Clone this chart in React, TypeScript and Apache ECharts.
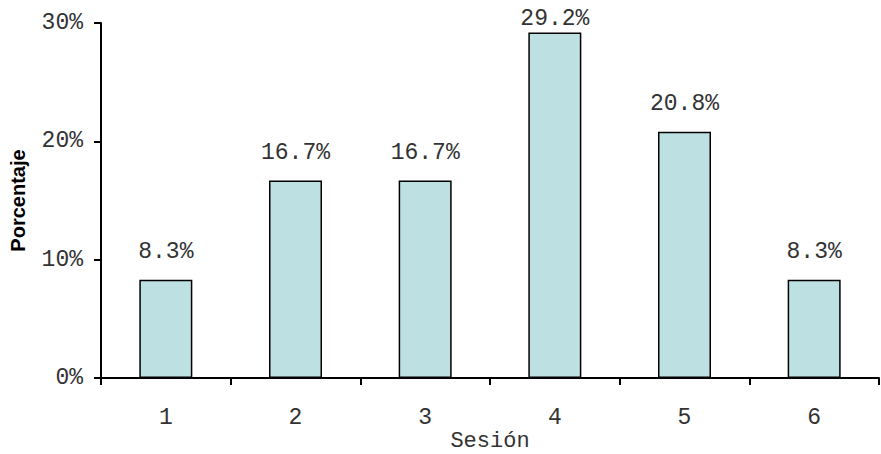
import React, { useEffect, useRef } from "react";
import * as echarts from "echarts";

const categories = ["1", "2", "3", "4", "5", "6"];
const values = [8.3, 16.7, 16.7, 29.2, 20.8, 8.3];
const labelDistances = [16, 16, 16, 2, 16, 16];

export default function App() {
  const ref = useRef<HTMLDivElement>(null);
  useEffect(() => {
    document.body.style.margin = "0";
    const chart = echarts.init(ref.current!, null, { renderer: "svg" });
    const mono = "'Liberation Mono', 'Courier New', monospace";
    chart.setOption({
      animation: false,
      backgroundColor: "#ffffff",
      grid: { left: 101, right: 2, top: 23, bottom: 76, containLabel: false, outerBoundsMode: "none" },
      xAxis: {
        type: "category",
        data: categories,
        name: "Sesión",
        nameLocation: "middle",
        nameGap: 52,
        nameMoveOverlap: false,
        nameTextStyle: { fontFamily: mono, fontSize: 22, color: "#333" },
        axisLine: { show: true, lineStyle: { color: "#000", width: 2 } },
        axisTick: { show: true, length: 7, lineStyle: { color: "#000", width: 2 } },
        axisLabel: { fontFamily: mono, fontSize: 23, color: "#333", margin: 28 },
      },
      yAxis: {
        type: "value",
        min: 0,
        max: 30,
        interval: 10,
        name: "Porcentaje",
        nameLocation: "middle",
        nameGap: 73,
        nameRotate: 90,
        nameTextStyle: { fontFamily: "Arial, 'Liberation Sans', sans-serif", fontWeight: "bold", fontSize: 20, color: "#000" },
        axisLine: { show: true, lineStyle: { color: "#000", width: 2 } },
        axisTick: { show: true, length: 7, lineStyle: { color: "#000", width: 2 } },
        splitLine: { show: false },
        axisLabel: { fontFamily: mono, fontSize: 23, color: "#333", margin: 18, formatter: "{value}%" },
      },
      series: [
        {
          type: "bar",
          barWidth: 53,
          data: values.map((v, i) => ({
            value: v,
            label: { distance: labelDistances[i] },
          })),
          itemStyle: { color: "#bde0e3", borderColor: "#000", borderWidth: 1.5 },
          label: {
            show: true,
            position: "top",
            fontFamily: mono,
            fontSize: 23,
            color: "#333",
            formatter: (p: any) => p.value.toFixed(1) + "%",
          },
        },
      ],
    });
    return () => chart.dispose();
  }, []);
  return <div ref={ref} style={{ width: 881, height: 454 }} />;
}
